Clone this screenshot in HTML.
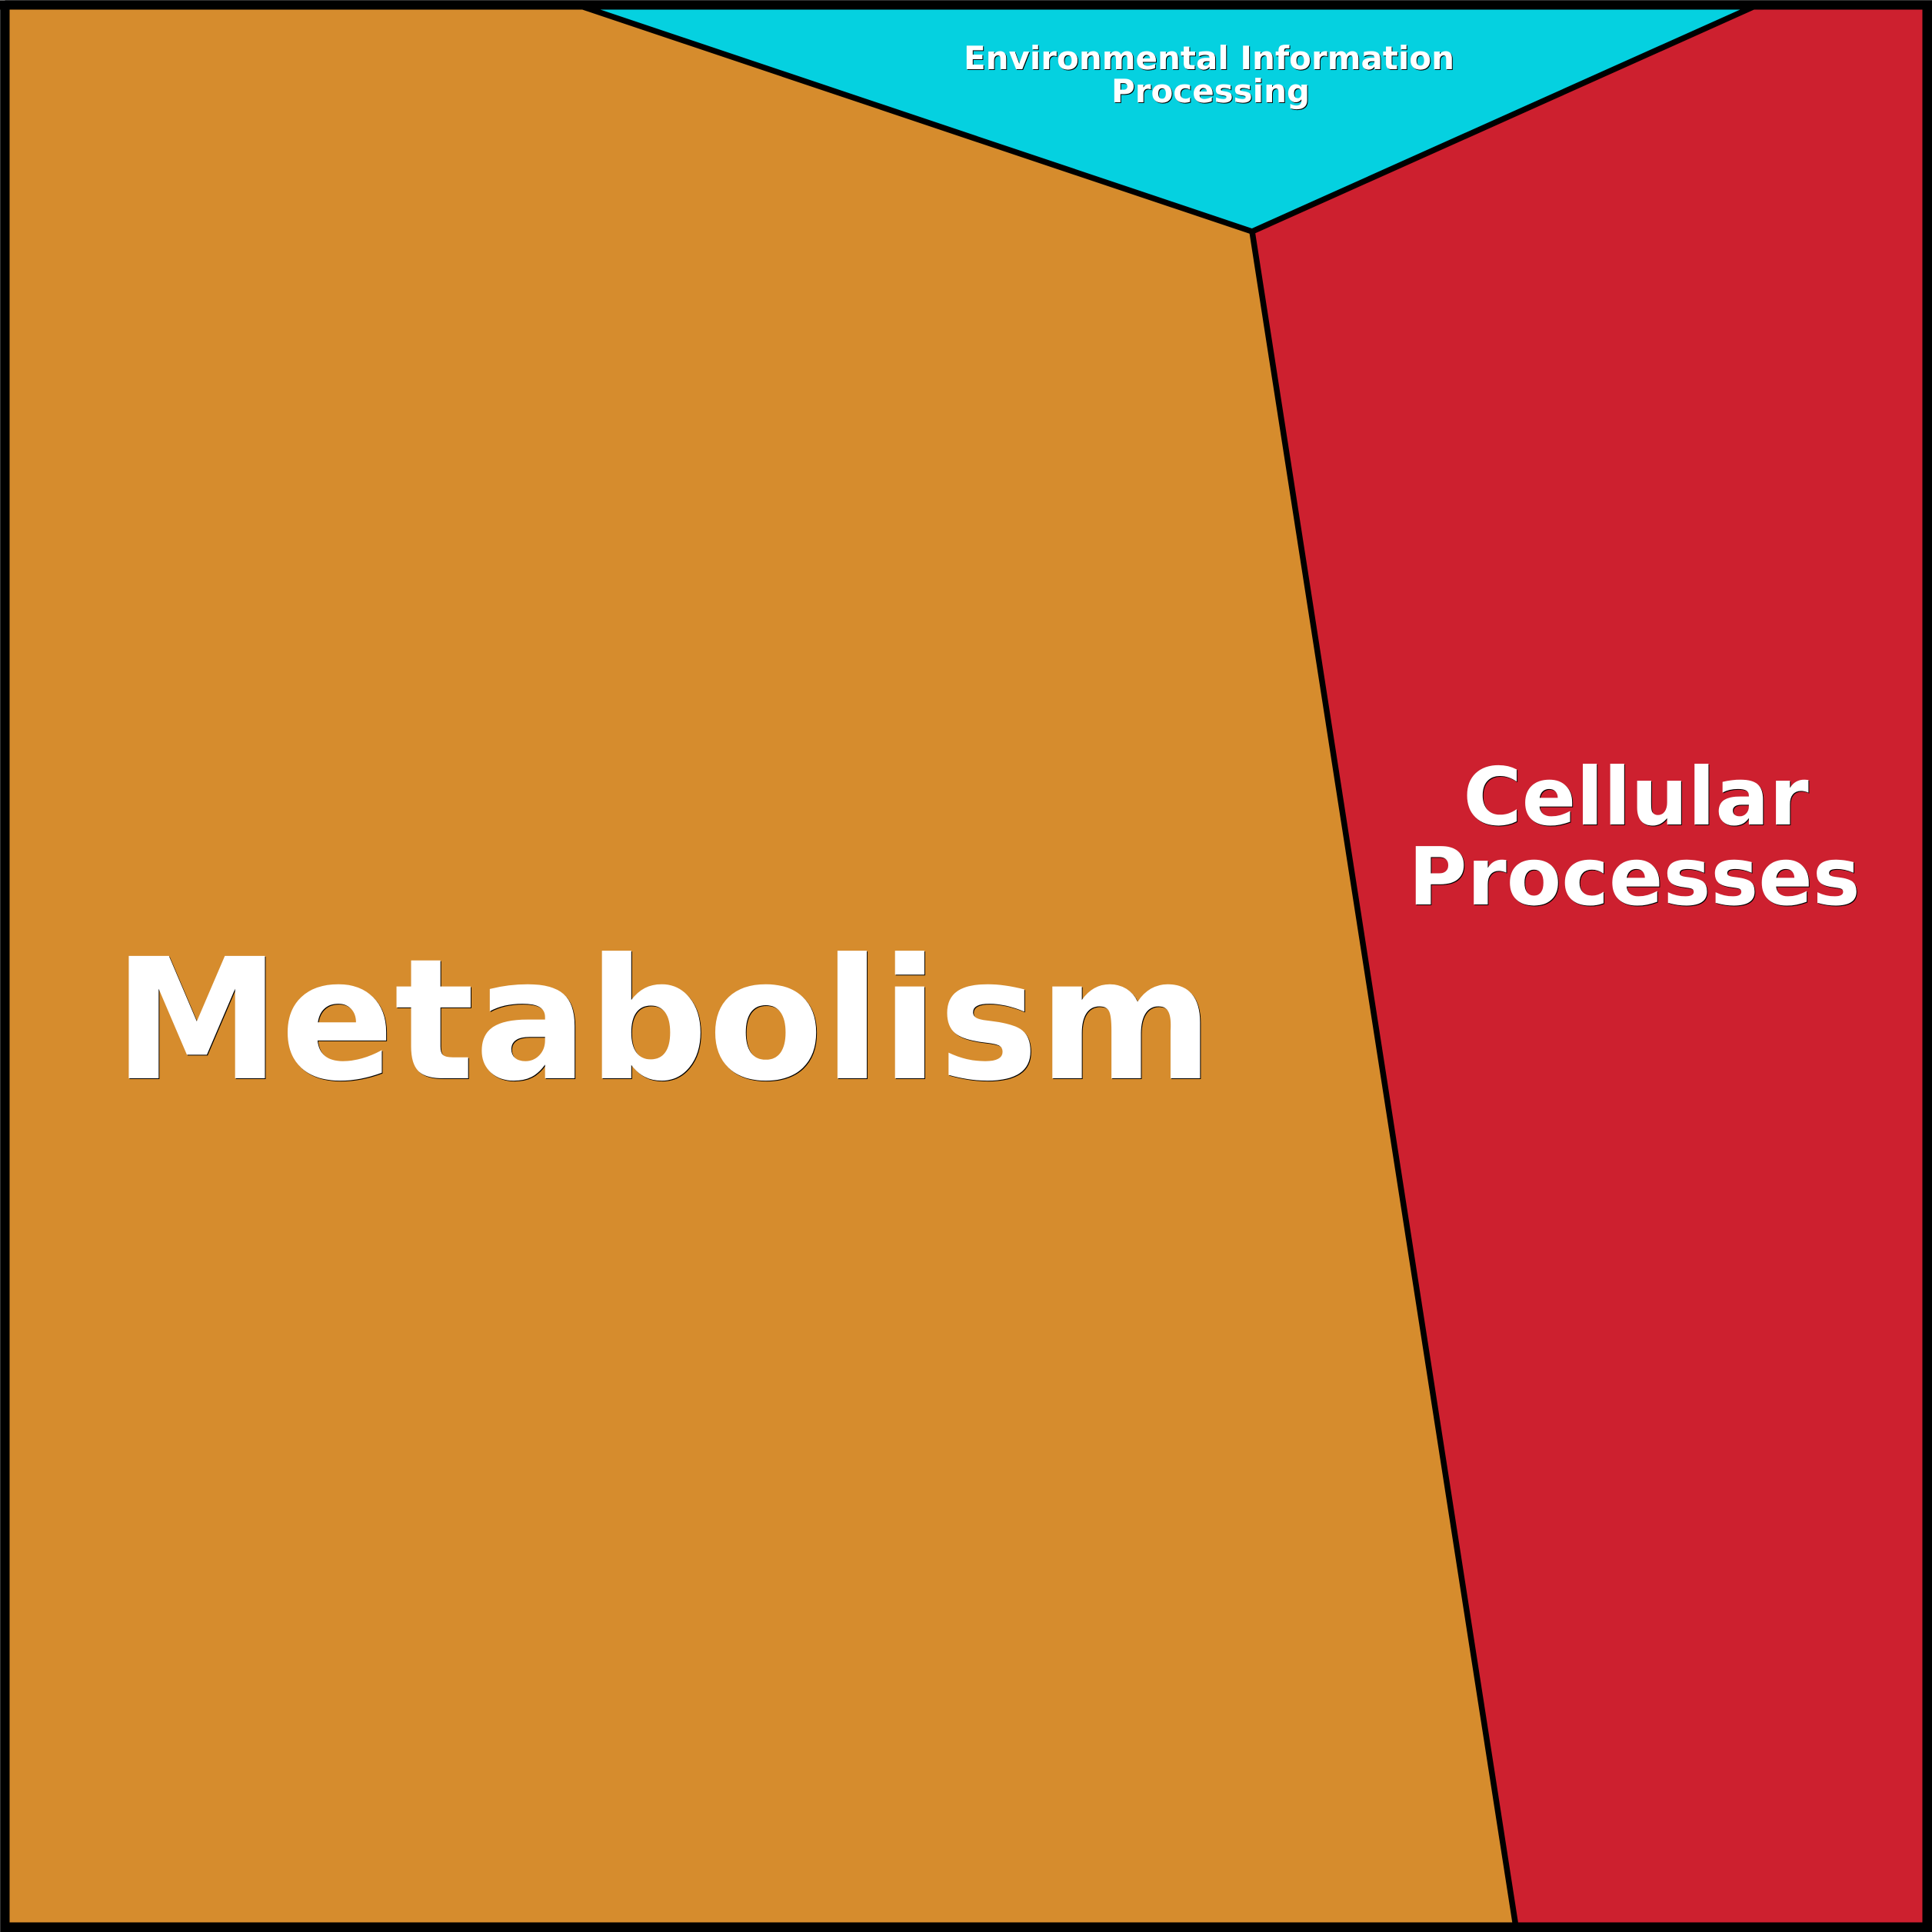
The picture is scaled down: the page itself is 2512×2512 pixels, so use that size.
<!DOCTYPE html>
<html><head><meta charset="utf-8"><style>
html,body{margin:0;padding:0;background:#000}
svg{display:block}
text{font-family:"DejaVu Sans",sans-serif;font-weight:bold;fill:#fff;text-anchor:middle;text-rendering:geometricPrecision;filter:drop-shadow(1px 1px 0 #000)}
</style></head><body>
<svg width="2512" height="2512" viewBox="0 0 2512 2512" xmlns="http://www.w3.org/2000/svg">
<rect x="0" y="0" width="2512" height="2512" fill="#000"/>
<rect x="0" y="0" width="2512" height="1" fill="#333"/>
<rect x="0" y="0" width="1" height="2512" fill="#333"/>
<polygon points="0,0 7,0 0,7" fill="#666"/>
<rect x="12.5" y="12.5" width="2487" height="2487" fill="#d68c2d"/>
<polygon points="751,6.5 2285,6.5 1628,301" fill="#05d1e0"/>
<polygon points="2285,6.5 2499.5,6.5 2499.5,2499.5 1970,2499.5 1628,301" fill="#cd202f"/>
<polyline points="751,6.5 1628,301 2285,6.5" fill="none" stroke="#000" stroke-width="7.5"/>
<line x1="1628" y1="301" x2="1971" y2="2505.5" stroke="#000" stroke-width="7.5"/>
<rect x="0" y="1" width="2512" height="11.5" fill="#000"/>
<text x="862.5" y="1402" font-size="218.3">Metabolism</text>
<text x="2127" y="1072" font-size="104">Cellular</text>
<text x="2125" y="1176" font-size="104">Processes</text>
<text x="1572" y="90" font-size="42">Environmental Information</text>
<text x="1574" y="133" font-size="42">Processing</text>
</svg>
</body></html>
